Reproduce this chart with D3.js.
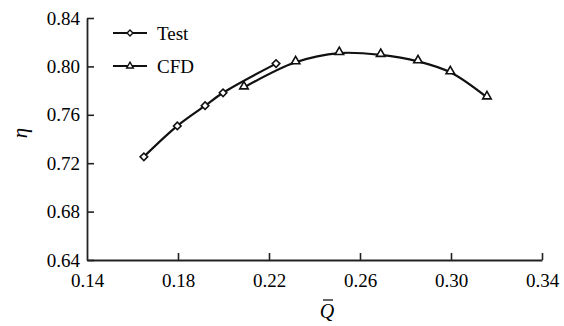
<!DOCTYPE html>
<html>
<head>
<meta charset="utf-8">
<script src="https://cdn.jsdelivr.net/npm/d3@7"></script>
<style>
  body { margin: 0; background: #fff; }
  text { font-family: "Liberation Serif", "Times New Roman", serif; fill: #000; }
</style>
</head>
<body>
<div id="graph"></div>
<script>
// values
const testQ = [0.165, 0.1797, 0.1919, 0.1998, 0.2231];
const testEta = [0.7253, 0.7508, 0.7675, 0.7782, 0.8023];
const cfdQ = [0.2090, 0.2317, 0.2509, 0.2691, 0.2855, 0.2997, 0.3158];
const cfdEta = [0.7826, 0.8034, 0.8110, 0.8095, 0.8042, 0.7951, 0.7744];
const xTicks = [0.14, 0.18, 0.22, 0.26, 0.30, 0.34];
const yTicks = [0.64, 0.68, 0.72, 0.76, 0.80, 0.84];

const W = 564, H = 326;
const margin = {left: 87, right: 22, top: 18, bottom: 66};

const svg = d3.select('#graph').append('svg')
    .attr('width', W)
    .attr('height', H);

const x = d3.scaleLinear().domain([0.14, 0.34]).range([margin.left, W - margin.right]);
const y = d3.scaleLinear().domain([0.64, 0.84]).range([H - margin.bottom, margin.top]);

// axes, ticks pointing inward
const xAxis = svg.append('g')
    .attr('transform', `translate(0,${y(0.64)})`)
    .call(d3.axisBottom(x).tickValues(xTicks).tickSizeInner(-7).tickSizeOuter(0).tickPadding(14).tickFormat(d3.format('.2f')));
const yAxis = svg.append('g')
    .attr('transform', `translate(${x(0.14)},0)`)
    .call(d3.axisLeft(y).tickValues(yTicks).tickSizeInner(-7).tickSizeOuter(0).tickPadding(7).tickFormat(d3.format('.2f')));

[xAxis, yAxis].forEach(g => {
    g.select('.domain').attr('stroke', '#222').attr('stroke-width', 1.8);
    g.selectAll('.tick line').attr('stroke', '#222').attr('stroke-width', 1.6);
    g.selectAll('.tick text').attr('font-size', 19).attr('font-family', '"Liberation Serif", serif');
});
xAxis.selectAll('.tick text').attr('dy', '0.71em');
// no tick drawn at the corner
xAxis.selectAll('.tick').filter(d => d === 0.14).select('line').remove();

// axis labels
svg.append('text')
    .attr('transform', `translate(27,${y(0.745)}) rotate(-90)`)
    .attr('text-anchor', 'middle')
    .attr('font-size', 21)
    .attr('font-style', 'italic')
    .text('η');

svg.append('text')
    .attr('x', 327)
    .attr('y', 318)
    .attr('text-anchor', 'middle')
    .attr('font-size', 20)
    .attr('font-style', 'italic')
    .text('Q');
svg.append('line')
    .attr('x1', 323).attr('x2', 333)
    .attr('y1', 300).attr('y2', 300)
    .attr('stroke', '#000').attr('stroke-width', 1.2);

const testData = testQ.map((q, i) => ({q: q, eta: testEta[i]}));
const cfdData = cfdQ.map((q, i) => ({q: q, eta: cfdEta[i]}));

const line = d3.line()
    .x(d => x(d.q))
    .y(d => y(d.eta))
    .curve(d3.curveCatmullRom);

svg.append('path').datum(testData)
    .attr('d', line)
    .attr('fill', 'none').attr('stroke', '#111').attr('stroke-width', 2.2);
svg.append('path').datum(cfdData)
    .attr('d', line)
    .attr('fill', 'none').attr('stroke', '#111').attr('stroke-width', 2.2);

const square = d3.symbol().type(d3.symbolSquare2).size(36);
const triangle = d3.symbol().type(d3.symbolTriangle2).size(52);

svg.selectAll('.test-pt').data(testData).enter()
    .append('path')
    .attr('class', 'test-pt')
    .attr('transform', d => `translate(${x(d.q)},${y(d.eta)}) rotate(45)`)
    .attr('d', square)
    .attr('fill', '#fff').attr('stroke', '#111').attr('stroke-width', 1.6);

svg.selectAll('.cfd-pt').data(cfdData).enter()
    .append('path')
    .attr('class', 'cfd-pt')
    .attr('transform', d => `translate(${x(d.q)},${y(d.eta) - 1})`)
    .attr('d', triangle)
    .attr('fill', '#fff').attr('stroke', '#111').attr('stroke-width', 1.6);

// legend
const legend = [
    {name: 'Test', sym: d3.symbol().type(d3.symbolSquare2).size(22), rot: 45, y: 33},
    {name: 'CFD', sym: d3.symbol().type(d3.symbolTriangle2).size(32), rot: 0, y: 66}
];
legend.forEach(l => {
    svg.append('line')
        .attr('x1', 113).attr('x2', 147)
        .attr('y1', l.y).attr('y2', l.y)
        .attr('stroke', '#111').attr('stroke-width', 2.2);
    svg.append('path')
        .attr('transform', `translate(130,${l.y}) rotate(${l.rot})`)
        .attr('d', l.sym)
        .attr('fill', '#fff').attr('stroke', '#111').attr('stroke-width', 1.4);
    svg.append('text')
        .attr('x', 157).attr('y', l.y)
        .attr('dy', '0.35em')
        .attr('font-size', 19)
        .text(l.name);
});
</script>
</body>
</html>
